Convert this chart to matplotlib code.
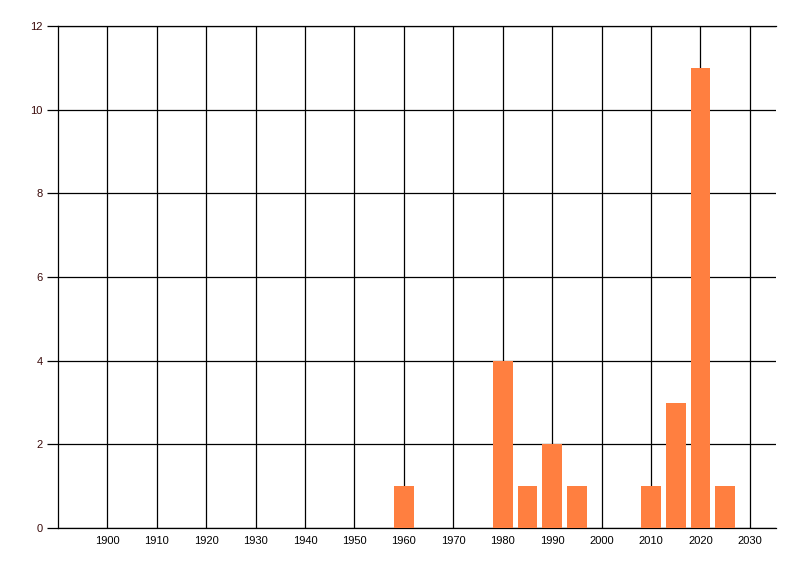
import matplotlib
matplotlib.use("Agg")
import matplotlib.pyplot as plt

plt.rcParams['font.family'] = ['Liberation Sans', 'DejaVu Sans']

years = [1960, 1980, 1985, 1990, 1995, 2010, 2015, 2020, 2025]
counts = [1, 4, 1, 2, 1, 1, 3, 11, 1]
x_ticks = list(range(1900, 2031, 10))
y_ticks = [0, 2, 4, 6, 8, 10, 12]

fig = plt.figure(figsize=(8, 5.76), dpi=100)
ax = fig.add_axes([0.0725, 0.0833, 0.8975, 0.8716])

ax.bar(years, counts, width=4, color='#FF7F40', zorder=3)

ax.set_xlim(1890, 2035.3)
ax.set_ylim(0, 12)
ax.set_xticks(x_ticks)
ax.set_yticks(y_ticks)
ax.grid(True, color='black', linewidth=0.9, zorder=0)
ax.set_axisbelow(True)

for side in ['right']:
    ax.spines[side].set_visible(False)
for side in ['left', 'bottom', 'top']:
    ax.spines[side].set_linewidth(0.9)
    ax.spines[side].set_color('black')

ax.tick_params(axis='x', length=0, pad=6, labelsize=8)
ax.tick_params(axis='y', length=8, width=0.9, pad=3, labelsize=8)
for lbl in ax.get_yticklabels():
    lbl.set_color('#3a0a0a')

fig.savefig('out.png', dpi=100)
